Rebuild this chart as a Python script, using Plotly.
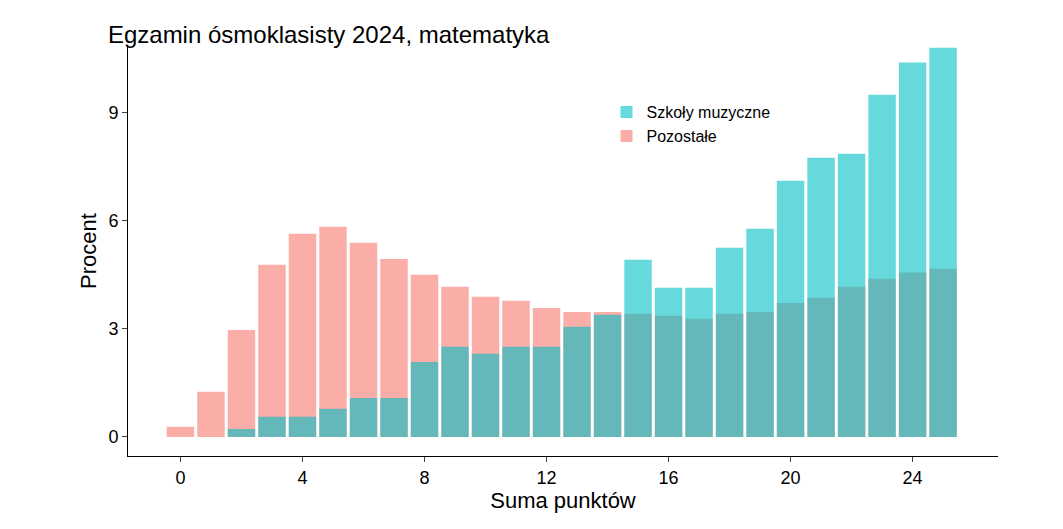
import plotly.graph_objects as go

punkty = list(range(26))
pozostale = [0.28, 1.25, 2.97, 4.78, 5.64, 5.83, 5.39, 4.94, 4.5, 4.17, 3.89, 3.78, 3.58, 3.47, 3.47,
             3.42, 3.36, 3.28, 3.42, 3.47, 3.72, 3.86, 4.17, 4.39, 4.56, 4.67]
muzyczne = [0, 0, 0.22, 0.56, 0.56, 0.78, 1.08, 1.08, 2.08, 2.5, 2.31, 2.5, 2.5, 3.06, 3.39,
            4.92, 4.14, 4.14, 5.25, 5.78, 7.11, 7.75, 7.86, 9.5, 10.39, 10.8]

fig = go.Figure()
fig.add_trace(go.Bar(x=punkty, y=pozostale, name='Pozostałe', marker_color='rgba(248,118,109,0.6)',
                     marker_line_width=0, width=0.9))
fig.add_trace(go.Bar(x=punkty, y=muzyczne, name='Szkoły muzyczne', marker_color='rgba(0,191,196,0.6)',
                     marker_line_width=0, width=0.9))
fig.update_layout(
    width=1063, height=529, barmode='overlay',
    plot_bgcolor='white', paper_bgcolor='white',
    font=dict(family='Liberation Sans, Arial', size=18, color='black'),
    title=dict(text='Egzamin ósmoklasisty 2024, matematyka', x=0.094, y=0.965, xanchor='left',
               yanchor='top', font=dict(size=24)),
    margin=dict(l=120, r=73, t=38, b=81),
    legend=dict(x=0.55, y=0.88, xanchor='left', yanchor='top', traceorder='reversed',
                font=dict(size=16), itemsizing='constant', tracegroupgap=16),
    xaxis=dict(range=[-1.72, 26.8], tickvals=[0, 4, 8, 12, 16, 20, 24], showgrid=False,
               showline=True, linecolor='black', ticks='outside', ticklen=5,
               title=dict(text='Suma punktów', standoff=5), zeroline=False),
    yaxis=dict(range=[-0.53, 10.85], tickvals=[0, 3, 6, 9], showgrid=False,
               showline=True, linecolor='black', ticks='outside', ticklen=5,
               title=dict(text='Procent', standoff=5), zeroline=False),
)
fig.write_html("out.html")
